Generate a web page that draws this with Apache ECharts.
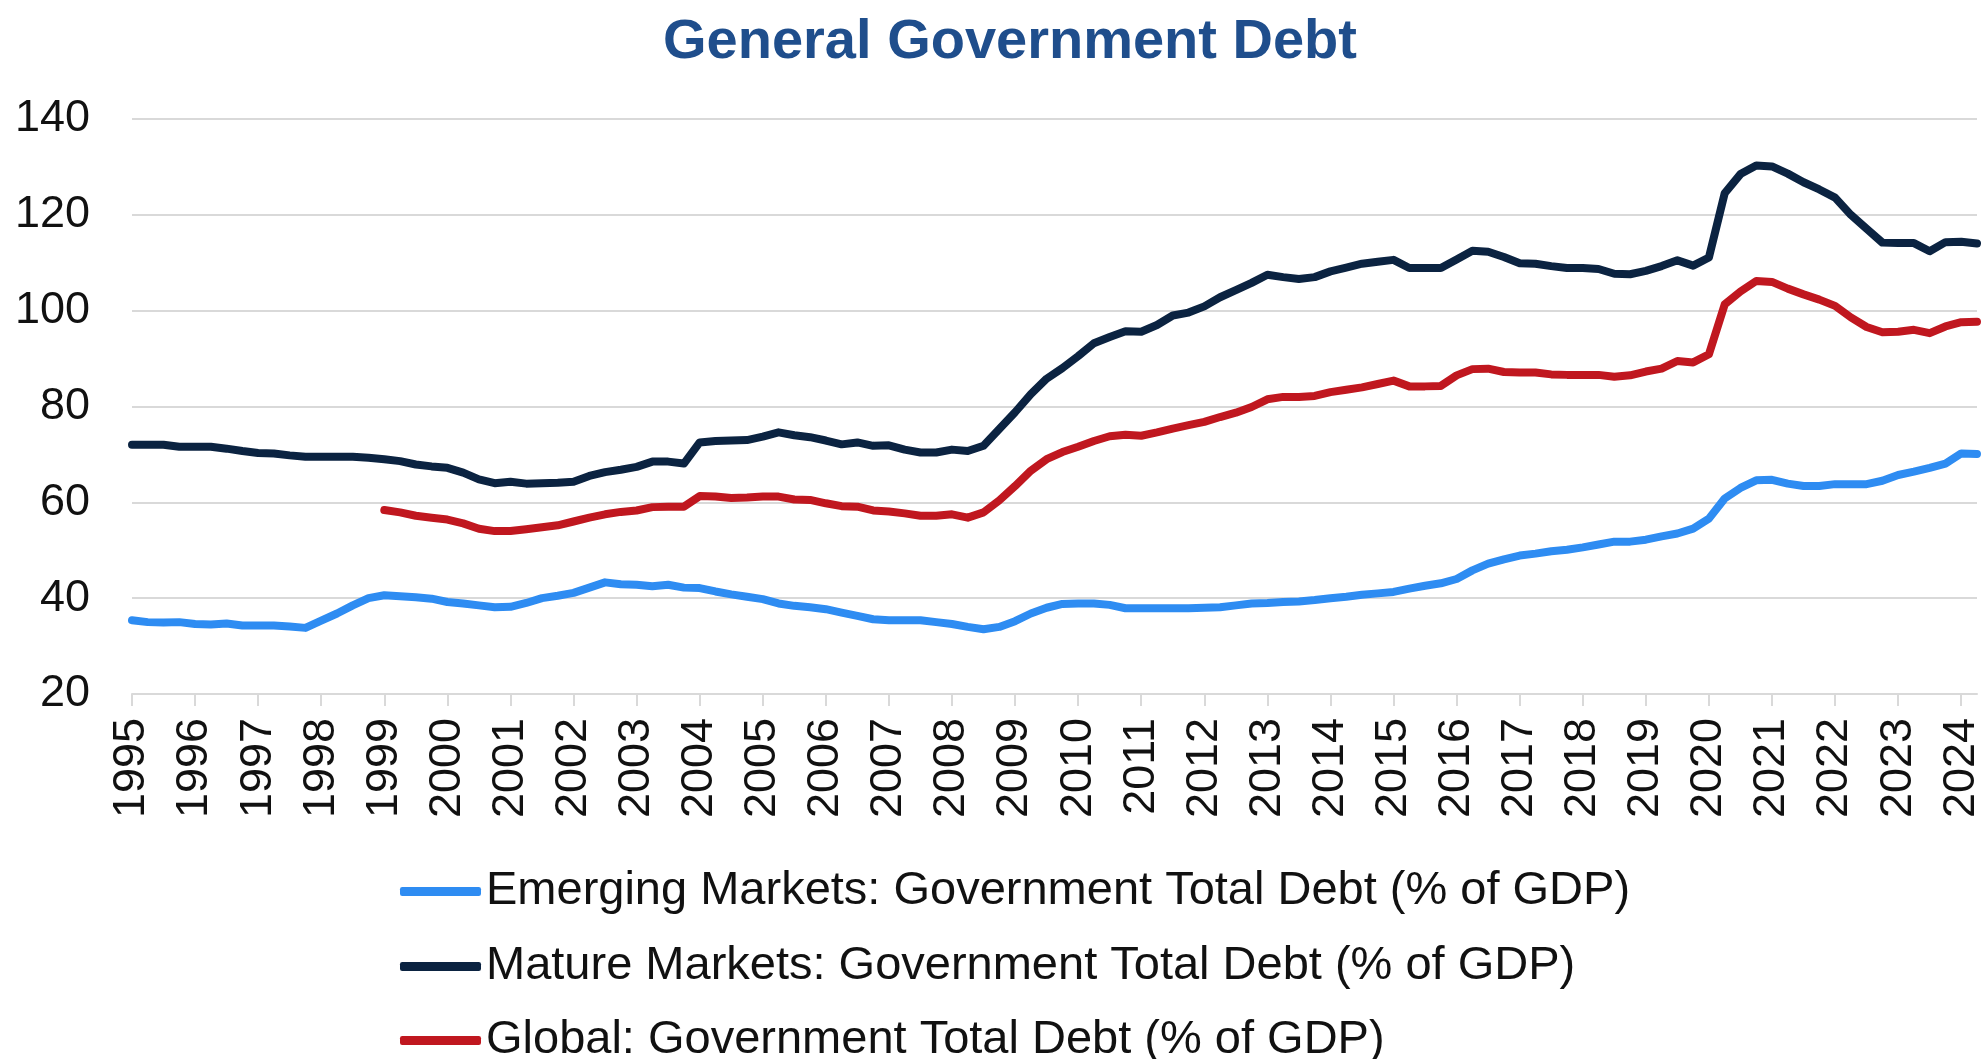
<!DOCTYPE html>
<html>
<head>
<meta charset="utf-8">
<title>General Government Debt</title>
<script src="https://cdn.jsdelivr.net/npm/echarts@6/dist/echarts.min.js"></script>
<style>
  html, body { margin: 0; padding: 0; background: #ffffff; }
  #chart { width: 1984px; height: 1059px; }
</style>
</head>
<body>
<div id="chart"></div>
<script>
// Quarterly observations, 1995 Q1 – 2024 Q2 (% of GDP)
const firstYear = 1995;
const lastYear = 2024;
const lastQuarter = 2;

const yTicks = [20, 40, 60, 80, 100, 120, 140];

const seriesNames = [
  'Emerging Markets: Government Total Debt (% of GDP)',
  'Mature Markets: Government Total Debt (% of GDP)',
  'Global: Government Total Debt (% of GDP)'
];

const emerging = [
  35.4, 35.0, 34.9, 35.0, 34.6, 34.5, 34.7, 34.3, 34.3, 34.3, 34.1, 33.8,
  35.3, 36.8, 38.5, 40.0, 40.6, 40.4, 40.2, 39.9, 39.2, 38.9, 38.5, 38.1,
  38.2, 39.0, 40.0, 40.5, 41.1, 42.2, 43.3, 42.9, 42.8, 42.5, 42.8, 42.2,
  42.1, 41.4, 40.8, 40.3, 39.8, 38.9, 38.4, 38.1, 37.7, 37.0, 36.3, 35.6,
  35.4, 35.4, 35.4, 35.0, 34.6, 34.0, 33.5, 34.0, 35.2, 36.8, 38.0, 38.8,
  38.9, 38.9, 38.6, 37.9, 37.9, 37.9, 37.9, 37.9, 38.0, 38.1, 38.5,
  38.9, 39.0, 39.2, 39.3, 39.6, 40.0, 40.3, 40.7, 41.0, 41.3, 42.0, 42.6,
  43.1, 44.0, 45.8, 47.2, 48.1, 48.9, 49.3, 49.8, 50.1, 50.6, 51.2, 51.8,
  51.8, 52.2, 52.9, 53.5, 54.5, 56.6, 60.8, 63.0, 64.6, 64.7, 63.9, 63.4,
  63.4, 63.8, 63.8, 63.8, 64.5, 65.7, 66.4, 67.2, 68.1, 70.2, 70.1
];

const mature = [
  72.0, 72.0, 72.0, 71.6, 71.6, 71.6, 71.2, 70.7, 70.3, 70.2, 69.8, 69.5,
  69.5, 69.5, 69.5, 69.3, 69.0, 68.6, 67.9, 67.5, 67.2, 66.2, 64.8, 64.0,
  64.3, 63.9, 64.0, 64.1, 64.3, 65.5, 66.3, 66.8, 67.4, 68.5, 68.5, 68.1,
  72.5, 72.8, 72.9, 73.0, 73.7, 74.6, 74.0, 73.6, 72.9, 72.1, 72.5, 71.8,
  71.9, 71.0, 70.4, 70.4, 71.0, 70.7, 71.8, 75.3, 78.8, 82.6, 85.8, 88.0,
  90.5, 93.2, 94.5, 95.7, 95.6, 97.0, 99.0, 99.6, 100.9, 102.8, 104.3,
  105.8, 107.5, 107.0, 106.6, 107.0, 108.2, 109.0, 109.8, 110.2, 110.6, 108.9, 108.9,
  108.9, 110.7, 112.5, 112.3, 111.2, 109.9, 109.8, 109.3, 108.9, 108.9, 108.7, 107.7,
  107.6, 108.3, 109.3, 110.5, 109.4, 111.1, 124.5, 128.5, 130.3, 130.1, 128.6, 126.8,
  125.3, 123.6, 120.0, 117.1, 114.2, 114.1, 114.1, 112.4, 114.3, 114.4, 114.0
];

// The global aggregate begins in 1999 Q1
const globalDebt = [
  null, null, null, null, null, null, null, null, null, null, null, null,
  null, null, null, null, 58.4, 57.9, 57.2, 56.8, 56.4, 55.6, 54.5, 54.0,
  54.0, 54.4, 54.8, 55.2, 56.0, 56.8, 57.5, 58.0, 58.3, 59.0, 59.1, 59.1,
  61.3, 61.2, 60.9, 61.0, 61.2, 61.2, 60.6, 60.5, 59.8, 59.2, 59.1, 58.3,
  58.1, 57.7, 57.2, 57.2, 57.5, 56.8, 57.9, 60.4, 63.4, 66.6, 69.0, 70.5,
  71.6, 72.8, 73.8, 74.1, 73.9, 74.6, 75.4, 76.1, 76.8, 77.8, 78.7,
  79.9, 81.5, 82.0, 82.0, 82.2, 83.0, 83.5, 84.0, 84.7, 85.4, 84.2, 84.2,
  84.3, 86.5, 87.8, 87.9, 87.2, 87.1, 87.1, 86.7, 86.6, 86.6, 86.6, 86.2,
  86.5, 87.3, 87.9, 89.5, 89.2, 90.9, 101.3, 104.0, 106.2, 106.0, 104.6, 103.4,
  102.3, 101.0, 98.6, 96.6, 95.5, 95.6, 96.0, 95.3, 96.7, 97.6, 97.7
];

const quarters = [];
for (let y = firstYear; y <= lastYear; y++) {
  for (let q = 1; q <= 4; q++) {
    if (y === lastYear && q > lastQuarter) break;
    quarters.push(y + ' Q' + q);
  }
}

const colors = ['#2E8CF2', '#0B2341', '#C0171F'];
const fontFamily = '"Liberation Sans", Arial, Helvetica, sans-serif';
const textColor = '#111111';
const gridColor = '#D9D9D9';

// One legend row per series, stacked under the plot
const legendRowTops = [868, 943, 1017];
const legends = seriesNames.map(function (name, i) {
  return {
    orient: 'vertical',
    left: 400,
    top: legendRowTops[i],
    padding: 0,
    itemWidth: 81,
    itemHeight: 9,
    icon: 'roundRect',
    data: [name],
    textStyle: {
      fontFamily: fontFamily,
      fontSize: 47,
      lineHeight: 40,
      color: textColor
    }
  };
});

const chart = echarts.init(document.getElementById('chart'), null, { renderer: 'canvas' });

chart.setOption({
  backgroundColor: '#ffffff',
  animation: false,
  title: {
    text: 'General Government Debt',
    left: 1005,
    top: 10,
    textAlign: 'center',
    textStyle: {
      fontFamily: fontFamily,
      fontSize: 56,
      fontWeight: 'bold',
      color: '#1F4E8C'
    }
  },
  legend: legends,
  grid: {
    left: 132,
    right: 7,
    top: 119,
    bottom: 365,
    containLabel: false
  },
  xAxis: {
    type: 'category',
    data: quarters,
    boundaryGap: false,
    axisLine: { show: true, lineStyle: { color: gridColor, width: 2 } },
    axisTick: { show: true, interval: 3, length: 12, lineStyle: { color: gridColor, width: 2 } },
    axisLabel: {
      interval: 3,
      rotate: 90,
      margin: 24,
      fontFamily: fontFamily,
      fontSize: 45,
      color: textColor,
      formatter: function (v) { return v.slice(0, 4); }
    },
    splitLine: { show: false }
  },
  yAxis: {
    type: 'value',
    min: yTicks[0],
    max: yTicks[yTicks.length - 1],
    interval: yTicks[1] - yTicks[0],
    axisLine: { show: false },
    axisTick: { show: false },
    axisLabel: {
      margin: 42,
      fontFamily: fontFamily,
      fontSize: 45,
      color: textColor
    },
    splitLine: { show: true, lineStyle: { color: gridColor, width: 2 } }
  },
  series: [
    { name: seriesNames[0], data: emerging, color: colors[0] },
    { name: seriesNames[1], data: mature, color: colors[1] },
    { name: seriesNames[2], data: globalDebt, color: colors[2] }
  ].map(function (s) {
    return {
      name: s.name,
      type: 'line',
      data: s.data,
      showSymbol: false,
      symbol: 'none',
      connectNulls: false,
      itemStyle: { color: s.color },
      lineStyle: { color: s.color, width: 8, cap: 'round', join: 'round' }
    };
  })
});
</script>
</body>
</html>
